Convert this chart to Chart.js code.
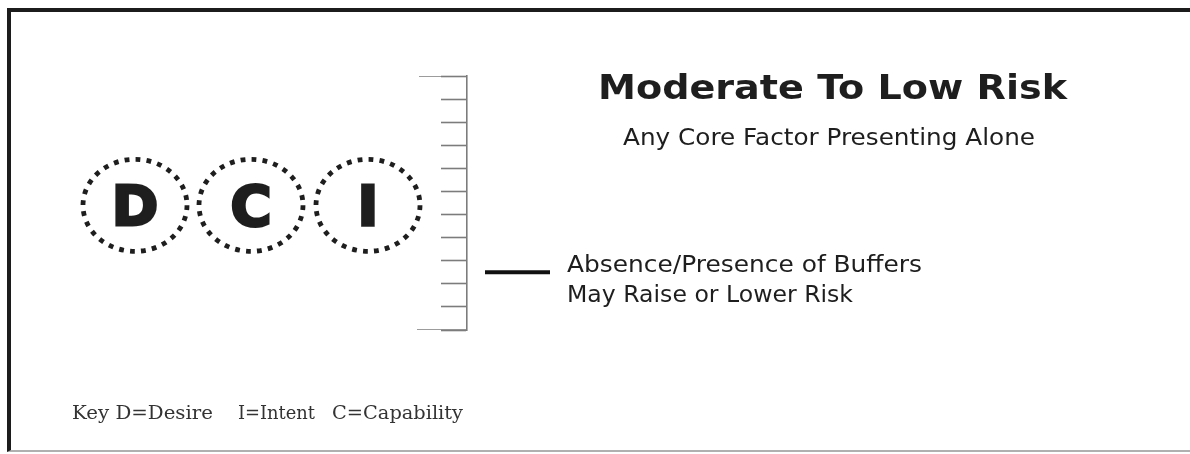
<!DOCTYPE html>
<html>
<head>
<meta charset="utf-8">
<title>Moderate To Low Risk</title>
<script src="https://cdn.jsdelivr.net/npm/chart.js@4.4.1/dist/chart.umd.min.js"></script>
<style>
  html, body { margin: 0; padding: 0; background: #fff; }
  #wrap { position: relative; width: 1190px; height: 454px; overflow: hidden; }
  #frame { position: absolute; left: 7px; top: 8px; width: 1200px; height: 438px;
           border-left: 4px solid #1c1c1c; border-top: 4px solid #1c1c1c; border-bottom: 2px solid #b0b0b0; }
  #chart { position: absolute; left: 0; top: 0; }
</style>
</head>
<body>
<div id="wrap">
  <div id="frame"></div>
  <canvas id="chart" width="1190" height="454"></canvas>
</div>
<script>
// ---- diagram data ----
const rulerLevels   = [0, 1, 2, 3, 4, 5, 6, 7, 8, 9, 10, 11];
const factorLetters = ['D', 'C', 'I'];
const factorNames   = ['Desire', 'Capability', 'Intent'];
const factorX       = [135, 251, 368];
const factorLevel   = 5.4;
const keyOrder      = ['D', 'I', 'C'];
const bufferLevel   = 2.5;
const bufferLabel   = ['Absence/Presence of Buffers', 'May Raise or Lower Risk'];
const titleText     = 'Moderate To Low Risk';
const subtitleText  = 'Any Core Factor Presenting Alone';

const INK = '#1e1e1e';
const RULE = '#7c7c7c';
const rMin = rulerLevels[0], rMax = rulerLevels[rulerLevels.length - 1];

// draw text stretched horizontally to a given width (left edge x)
function wideText(ctx, txt, x, y, w) {
  const m = ctx.measureText(txt).width;
  ctx.save();
  ctx.translate(x, y);
  ctx.scale(w / m, 1);
  ctx.textAlign = 'left';
  ctx.fillText(txt, 0, 0);
  ctx.restore();
}

// dotted rings + letters, title, buffer label and key
const diagramText = {
  id: 'diagramText',
  afterDatasetsDraw(chart) {
    const ctx = chart.ctx;
    const meta = chart.getDatasetMeta(2);
    ctx.save();
    meta.data.forEach((pt, i) => {
      const rx = 52, ry = 46;
      const per = 2 * Math.PI * Math.sqrt((rx * rx + ry * ry) / 2) / 28;
      ctx.beginPath();
      ctx.ellipse(pt.x, pt.y, rx, ry, 0, 0, Math.PI * 2);
      ctx.setLineDash([4.8, per - 4.8]);
      ctx.lineCap = 'butt';
      ctx.lineWidth = 4.8;
      ctx.strokeStyle = INK;
      ctx.stroke();
      ctx.setLineDash([]);
      ctx.font = 'bold 56px "DejaVu Sans"';
      ctx.textAlign = 'center';
      ctx.textBaseline = 'alphabetic';
      ctx.fillStyle = INK;
      ctx.lineWidth = 3;
      ctx.lineJoin = 'miter';
      ctx.fillText(factorLetters[i], pt.x, pt.y + 20);
      ctx.strokeText(factorLetters[i], pt.x, pt.y + 20);
    });

    ctx.fillStyle = INK;
    ctx.font = 'bold 33px "DejaVu Sans"';
    wideText(ctx, titleText, 598, 99, 469);
    ctx.font = '23px "DejaVu Sans"';
    wideText(ctx, subtitleText, 623, 145, 412);

    const by = chart.getDatasetMeta(1).data[0].y;
    ctx.font = '23px "DejaVu Sans"';
    wideText(ctx, bufferLabel[0], 567, by, 355);
    wideText(ctx, bufferLabel[1], 567, by + 30, 286);

    ctx.fillStyle = '#333';
    ctx.font = '19px "DejaVu Serif"';
    const keyX = [72, 238, 332], keyW = [141, 77, 131];
    keyOrder.forEach((l, i) => {
      const name = factorNames[factorLetters.indexOf(l)];
      const txt = (i === 0 ? 'Key ' : '') + l + '=' + name;
      wideText(ctx, txt, keyX[i], 419, keyW[i]);
    });
    ctx.restore();
  }
};

new Chart(document.getElementById('chart'), {
  type: 'scatter',
  data: {
    datasets: [
      { // ruler end caps
        data: [{x: 419, y: rMax}, {x: 467, y: rMax}, {x: null, y: null}, {x: 417, y: rMin}, {x: 467, y: rMin}],
        showLine: true, spanGaps: false, borderColor: RULE, borderWidth: 1.6, pointRadius: 0
      },
      { // buffer marker
        data: [{x: 485, y: bufferLevel}, {x: 550, y: bufferLevel}],
        showLine: true, borderColor: '#111', borderWidth: 4, pointRadius: 0, borderCapStyle: 'butt'
      },
      { // factor positions (drawn by plugin)
        data: factorLetters.map((l, i) => ({x: factorX[i], y: factorLevel})),
        pointRadius: 0
      }
    ]
  },
  options: {
    responsive: false,
    animation: false,
    events: [],
    layout: { padding: { top: 76, bottom: 124, left: 0, right: 0 } },
    plugins: { legend: { display: false }, tooltip: { enabled: false } },
    scales: {
      x: { type: 'linear', min: 0, max: 1190, display: false },
      y: {
        type: 'linear', min: rMin, max: rMax,
        position: { x: 467 },
        afterBuildTicks: s => { s.ticks = rulerLevels.map(v => ({ value: v })); },
        ticks: { display: false },
        grid: { drawOnChartArea: false, drawTicks: true, tickLength: 25, tickColor: RULE, tickWidth: 1.6 },
        border: { display: true, color: RULE, width: 1.6 }
      }
    }
  },
  plugins: [diagramText]
});
</script>
</body>
</html>
